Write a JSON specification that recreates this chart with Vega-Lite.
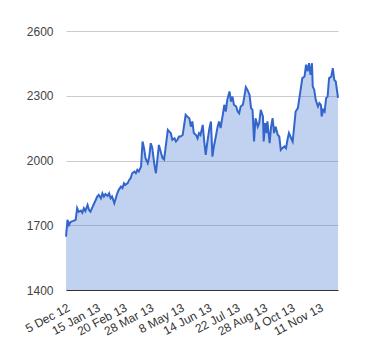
{
  "$schema": "https://vega.github.io/schema/vega-lite/v6.json",
  "width": 272,
  "height": 259,
  "autosize": {"type": "none"},
  "padding": {"left": 66, "top": 31, "right": 42, "bottom": 70},
  "background": "white",
  "config": {
    "view": {"stroke": null},
    "font": "Liberation Sans"
  },
  "data": {
    "values": [
      {"date": "2012-12-05", "price": 1647},
      {"date": "2012-12-07", "price": 1725},
      {"date": "2012-12-09", "price": 1701},
      {"date": "2012-12-11", "price": 1715},
      {"date": "2012-12-13", "price": 1718},
      {"date": "2012-12-15", "price": 1720},
      {"date": "2012-12-18", "price": 1725},
      {"date": "2012-12-20", "price": 1779},
      {"date": "2012-12-22", "price": 1762},
      {"date": "2012-12-25", "price": 1768},
      {"date": "2012-12-27", "price": 1758},
      {"date": "2012-12-29", "price": 1779},
      {"date": "2012-12-31", "price": 1766},
      {"date": "2013-01-03", "price": 1794},
      {"date": "2013-01-05", "price": 1771},
      {"date": "2013-01-07", "price": 1763},
      {"date": "2013-01-09", "price": 1779},
      {"date": "2013-01-12", "price": 1802},
      {"date": "2013-01-14", "price": 1817},
      {"date": "2013-01-16", "price": 1833},
      {"date": "2013-01-18", "price": 1841},
      {"date": "2013-01-21", "price": 1825},
      {"date": "2013-01-23", "price": 1848},
      {"date": "2013-01-25", "price": 1833},
      {"date": "2013-01-27", "price": 1845},
      {"date": "2013-01-30", "price": 1836},
      {"date": "2013-02-01", "price": 1848},
      {"date": "2013-02-03", "price": 1825},
      {"date": "2013-02-05", "price": 1833},
      {"date": "2013-02-08", "price": 1802},
      {"date": "2013-02-10", "price": 1825},
      {"date": "2013-02-12", "price": 1848},
      {"date": "2013-02-14", "price": 1864},
      {"date": "2013-02-17", "price": 1879},
      {"date": "2013-02-19", "price": 1872},
      {"date": "2013-02-21", "price": 1895},
      {"date": "2013-02-23", "price": 1887},
      {"date": "2013-02-26", "price": 1895},
      {"date": "2013-02-28", "price": 1910},
      {"date": "2013-03-02", "price": 1918},
      {"date": "2013-03-04", "price": 1941},
      {"date": "2013-03-07", "price": 1949},
      {"date": "2013-03-09", "price": 1941},
      {"date": "2013-03-11", "price": 1957},
      {"date": "2013-03-13", "price": 1949},
      {"date": "2013-03-16", "price": 1972},
      {"date": "2013-03-18", "price": 2088},
      {"date": "2013-03-20", "price": 2057},
      {"date": "2013-03-22", "price": 2011},
      {"date": "2013-03-25", "price": 1988},
      {"date": "2013-03-27", "price": 2018},
      {"date": "2013-03-29", "price": 2080},
      {"date": "2013-03-31", "price": 2060},
      {"date": "2013-04-03", "price": 1980},
      {"date": "2013-04-05", "price": 1941},
      {"date": "2013-04-09", "price": 2072},
      {"date": "2013-04-12", "price": 2034},
      {"date": "2013-04-14", "price": 2011},
      {"date": "2013-04-16", "price": 2005},
      {"date": "2013-04-21", "price": 2142},
      {"date": "2013-04-23", "price": 2134},
      {"date": "2013-04-25", "price": 2127},
      {"date": "2013-04-27", "price": 2096},
      {"date": "2013-04-30", "price": 2103},
      {"date": "2013-05-02", "price": 2088},
      {"date": "2013-05-04", "price": 2096},
      {"date": "2013-05-06", "price": 2111},
      {"date": "2013-05-08", "price": 2111},
      {"date": "2013-05-11", "price": 2118},
      {"date": "2013-05-13", "price": 2165},
      {"date": "2013-05-15", "price": 2212},
      {"date": "2013-05-17", "price": 2204},
      {"date": "2013-05-20", "price": 2196},
      {"date": "2013-05-22", "price": 2157},
      {"date": "2013-05-24", "price": 2181},
      {"date": "2013-05-26", "price": 2127},
      {"date": "2013-05-29", "price": 2118},
      {"date": "2013-05-31", "price": 2103},
      {"date": "2013-06-02", "price": 2127},
      {"date": "2013-06-04", "price": 2118},
      {"date": "2013-06-07", "price": 2165},
      {"date": "2013-06-09", "price": 2088},
      {"date": "2013-06-11", "price": 2026},
      {"date": "2013-06-13", "price": 2080},
      {"date": "2013-06-16", "price": 2150},
      {"date": "2013-06-18", "price": 2181},
      {"date": "2013-06-20", "price": 2018},
      {"date": "2013-06-22", "price": 2065},
      {"date": "2013-06-25", "price": 2118},
      {"date": "2013-06-27", "price": 2157},
      {"date": "2013-06-29", "price": 2181},
      {"date": "2013-07-01", "price": 2150},
      {"date": "2013-07-04", "price": 2212},
      {"date": "2013-07-06", "price": 2258},
      {"date": "2013-07-08", "price": 2227},
      {"date": "2013-07-10", "price": 2281},
      {"date": "2013-07-13", "price": 2320},
      {"date": "2013-07-15", "price": 2273},
      {"date": "2013-07-17", "price": 2296},
      {"date": "2013-07-19", "price": 2258},
      {"date": "2013-07-22", "price": 2250},
      {"date": "2013-07-24", "price": 2227},
      {"date": "2013-07-26", "price": 2219},
      {"date": "2013-07-28", "price": 2250},
      {"date": "2013-07-31", "price": 2258},
      {"date": "2013-08-02", "price": 2296},
      {"date": "2013-08-04", "price": 2340},
      {"date": "2013-08-06", "price": 2328},
      {"date": "2013-08-09", "price": 2304},
      {"date": "2013-08-11", "price": 2243},
      {"date": "2013-08-13", "price": 2235},
      {"date": "2013-08-15", "price": 2088},
      {"date": "2013-08-17", "price": 2196},
      {"date": "2013-08-20", "price": 2157},
      {"date": "2013-08-22", "price": 2173},
      {"date": "2013-08-24", "price": 2235},
      {"date": "2013-08-27", "price": 2204},
      {"date": "2013-08-28", "price": 2088},
      {"date": "2013-08-30", "price": 2173},
      {"date": "2013-09-01", "price": 2127},
      {"date": "2013-09-02", "price": 2181},
      {"date": "2013-09-05", "price": 2080},
      {"date": "2013-09-07", "price": 2157},
      {"date": "2013-09-09", "price": 2196},
      {"date": "2013-09-11", "price": 2127},
      {"date": "2013-09-13", "price": 2157},
      {"date": "2013-09-16", "price": 2118},
      {"date": "2013-09-18", "price": 2111},
      {"date": "2013-09-20", "price": 2049},
      {"date": "2013-09-22", "price": 2057},
      {"date": "2013-09-25", "price": 2065},
      {"date": "2013-09-27", "price": 2057},
      {"date": "2013-09-29", "price": 2096},
      {"date": "2013-10-01", "price": 2127},
      {"date": "2013-10-04", "price": 2103},
      {"date": "2013-10-06", "price": 2088},
      {"date": "2013-10-08", "price": 2157},
      {"date": "2013-10-10", "price": 2227},
      {"date": "2013-10-13", "price": 2243},
      {"date": "2013-10-15", "price": 2289},
      {"date": "2013-10-17", "price": 2335},
      {"date": "2013-10-19", "price": 2382},
      {"date": "2013-10-22", "price": 2389},
      {"date": "2013-10-24", "price": 2444},
      {"date": "2013-10-26", "price": 2413},
      {"date": "2013-10-28", "price": 2451},
      {"date": "2013-10-30", "price": 2397},
      {"date": "2013-11-01", "price": 2451},
      {"date": "2013-11-02", "price": 2343},
      {"date": "2013-11-04", "price": 2328},
      {"date": "2013-11-06", "price": 2281},
      {"date": "2013-11-09", "price": 2250},
      {"date": "2013-11-11", "price": 2266},
      {"date": "2013-11-13", "price": 2258},
      {"date": "2013-11-14", "price": 2204},
      {"date": "2013-11-16", "price": 2235},
      {"date": "2013-11-18", "price": 2227},
      {"date": "2013-11-20", "price": 2289},
      {"date": "2013-11-22", "price": 2296},
      {"date": "2013-11-24", "price": 2382},
      {"date": "2013-11-27", "price": 2389},
      {"date": "2013-11-29", "price": 2428},
      {"date": "2013-12-01", "price": 2374},
      {"date": "2013-12-03", "price": 2366},
      {"date": "2013-12-06", "price": 2290}
    ]
  },
  "mark": {
    "type": "area",
    "color": "#3366cc",
    "fillOpacity": 0.3,
    "line": {"color": "#3366cc", "strokeWidth": 2}
  },
  "encoding": {
    "x": {
      "field": "date",
      "type": "temporal",
      "scale": {
        "type": "utc",
        "nice": false,
        "domain": [
          {"year": 2012, "month": 12, "date": 5, "utc": true},
          {"year": 2013, "month": 12, "date": 6, "utc": true}
        ]
      },
      "axis": {
        "title": null,
        "grid": false,
        "ticks": false,
        "domain": true,
        "domainColor": "#333333",
        "domainWidth": 1,
        "values": [
          {"year": 2012, "month": 12, "date": 5, "utc": true},
          {"year": 2013, "month": 1, "date": 15, "utc": true},
          {"year": 2013, "month": 2, "date": 20, "utc": true},
          {"year": 2013, "month": 3, "date": 28, "utc": true},
          {"year": 2013, "month": 5, "date": 8, "utc": true},
          {"year": 2013, "month": 6, "date": 14, "utc": true},
          {"year": 2013, "month": 7, "date": 22, "utc": true},
          {"year": 2013, "month": 8, "date": 28, "utc": true},
          {"year": 2013, "month": 10, "date": 4, "utc": true},
          {"year": 2013, "month": 11, "date": 11, "utc": true}
        ],
        "format": "%-d %b %y",
        "labelAngle": -28,
        "labelAlign": "right",
        "labelBaseline": "top",
        "labelPadding": 12,
        "labelFontSize": 12,
        "labelColor": "#333333",
        "labelOverlap": false,
        "labelBound": false,
        "labelFlush": false
      }
    },
    "y": {
      "field": "price",
      "type": "quantitative",
      "scale": {"domain": [1400, 2600], "zero": false, "nice": false},
      "axis": {
        "title": null,
        "values": [1400, 1700, 2000, 2300, 2600],
        "format": "d",
        "grid": true,
        "gridColor": "#cccccc",
        "gridWidth": 1,
        "ticks": false,
        "domain": false,
        "labelPadding": 13,
        "labelFontSize": 12,
        "labelColor": "#444444"
      }
    },
    "y2": {"datum": 1400}
  }
}
